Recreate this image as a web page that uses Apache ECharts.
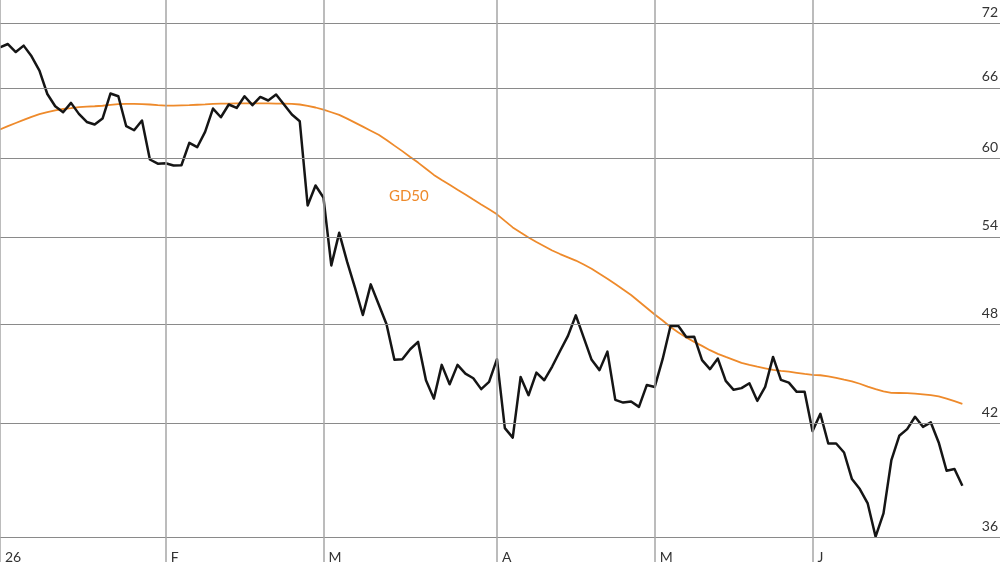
<!DOCTYPE html>
<html>
<head>
<meta charset="utf-8">
<script src="https://cdn.jsdelivr.net/npm/echarts@6/dist/echarts.min.js"></script>
<style>
  html, body { margin: 0; padding: 0; background: #fff; }
  #chart { width: 1000px; height: 562px; }
</style>
</head>
<body>
<div id="chart"></div>
<script>
// daily closes, one per trading day
var price = [
  69.71, 70.02, 69.27, 69.87, 68.87, 67.56, 65.46, 64.39, 63.87, 64.68,
  63.73, 63.04, 62.82, 63.33, 65.50, 65.26, 62.68, 62.34, 63.16, 59.93,
  59.59, 59.63, 59.45, 59.47, 61.29, 60.93, 62.20, 64.19, 63.44, 64.54,
  64.24, 65.26, 64.48, 65.20, 64.89, 65.41, 64.54, 63.67, 63.10, 56.33,
  57.87, 56.94, 51.96, 54.29, 52.22, 50.42, 48.60, 50.65, 49.31, 48.00,
  45.75, 45.79, 46.41, 46.87, 44.51, 43.42, 45.44, 44.27, 45.44, 44.91,
  44.63, 43.98, 44.41, 45.79, 41.73, 41.20, 44.71, 43.62, 44.97, 44.51,
  45.34, 46.30, 47.25, 48.58, 47.14, 45.75, 45.12, 46.26, 43.35, 43.19,
  43.25, 42.94, 44.23, 44.11, 45.79, 47.89, 47.89, 47.18, 47.20, 45.73,
  45.18, 45.83, 44.47, 43.94, 44.04, 44.33, 43.29, 44.11, 45.93, 44.53,
  44.37, 43.82, 43.82, 41.56, 42.54, 40.87, 40.87, 40.38, 38.96, 38.44,
  37.70, 36.05, 37.20, 39.97, 41.30, 41.67, 42.37, 41.80, 42.05, 40.93,
  39.40, 39.49, 38.61
];
// 50 day average (GD50)
var gd50 = [
  62.40, 62.68, 62.95, 63.21, 63.48, 63.71, 63.88, 64.03, 64.15, 64.23,
  64.32, 64.36, 64.39, 64.43, 64.50, 64.57, 64.59, 64.59, 64.58, 64.54,
  64.49, 64.45, 64.45, 64.47, 64.48, 64.52, 64.55, 64.59, 64.61, 64.62,
  64.63, 64.63, 64.63, 64.63, 64.63, 64.62, 64.61, 64.59, 64.54, 64.43,
  64.28, 64.10, 63.87, 63.64, 63.32, 62.98, 62.64, 62.30, 61.96, 61.53,
  61.06, 60.61, 60.14, 59.68, 59.19, 58.70, 58.29, 57.92, 57.54, 57.17,
  56.78, 56.40, 56.04, 55.66, 55.17, 54.69, 54.31, 53.95, 53.62, 53.32,
  53.01, 52.76, 52.53, 52.30, 52.02, 51.73, 51.38, 51.04, 50.67, 50.30,
  49.93, 49.49, 49.06, 48.63, 48.24, 47.82, 47.47, 47.15, 46.87, 46.62,
  46.35, 46.12, 45.93, 45.75, 45.56, 45.44, 45.33, 45.23, 45.13, 45.07,
  45.03, 44.96, 44.89, 44.83, 44.81, 44.74, 44.65, 44.54, 44.44, 44.30,
  44.13, 43.98, 43.85, 43.76, 43.75, 43.74, 43.71, 43.67, 43.62, 43.55,
  43.42, 43.27, 43.12
];
var monthLabels = ['26', 'F', 'M', 'A', 'M', 'J'];
var monthStart = [0, 21, 41, 63, 83, 103];
var yTicks = [36, 42, 48, 54, 60, 66, 72];

var chart = echarts.init(document.getElementById('chart'));

var font = 'Lato, "Open Sans", sans-serif';
var orange = '#ee8a2b';

var option = {
  animation: false,
  backgroundColor: '#fff',
  // labels hang off the bottom edge on purpose, don't let the grid shrink
  grid: { left: 0, right: 0, top: 0, bottom: 0, outerBoundsMode: 'none' },
  xAxis: {
    type: 'value',
    min: 0,
    max: 126.77,
    axisLine: { show: false },
    axisTick: { show: false },
    splitLine: { show: false },
    axisLabel: {
      inside: true,
      customValues: monthStart,
      margin: 12,
      align: 'left',
      verticalAlign: 'top',
      padding: [0, 0, 0, 5],
      color: '#333',
      fontSize: 14,
      fontFamily: font,
      formatter: function (v) {
        var k = monthStart.indexOf(Math.round(v));
        return k >= 0 ? monthLabels[k] : '';
      }
    }
  },
  yAxis: {
    type: 'log',
    min: 34.84,
    max: 74.30,
    axisLine: { show: false },
    axisTick: { show: false },
    axisLabel: { show: false },
    splitLine: { show: false }
  },
  graphic: [{
    type: 'text',
    left: 389,
    top: 189,
    style: { text: 'GD50', fill: orange, font: '15px ' + font }
  }],
  series: [
    {
      name: 'GD50',
      type: 'line',
      z: 2,
      showSymbol: false,
      symbol: 'none',
      data: gd50.map(function (v, i) { return [i, v]; }),
      lineStyle: { color: orange, width: 1.8 },
      markLine: {
        silent: true,
        symbol: 'none',
        animation: false,
        data: yTicks.map(function (t) {
          return {
            yAxis: t,
            lineStyle: { color: '#8a8a8a', width: 1, type: 'solid' },
            label: {
              show: true,
              position: 'insideEndTop',
              distance: [2, 4],
              formatter: String(t),
              color: '#333',
              fontSize: 14,
              fontFamily: font
            }
          };
        }).concat(monthStart.map(function (m) {
          return {
            xAxis: m,
            lineStyle: { color: '#a6a6a6', width: 1.5, type: 'solid' },
            label: { show: false }
          };
        }))
      }
    },
    {
      name: 'Kurs',
      type: 'line',
      z: 3,
      showSymbol: false,
      symbol: 'none',
      data: price.map(function (v, i) { return [i, v]; }),
      lineStyle: { color: '#151515', width: 2.5, join: 'round' }
    }
  ]
};

chart.setOption(option);
</script>
</body>
</html>
